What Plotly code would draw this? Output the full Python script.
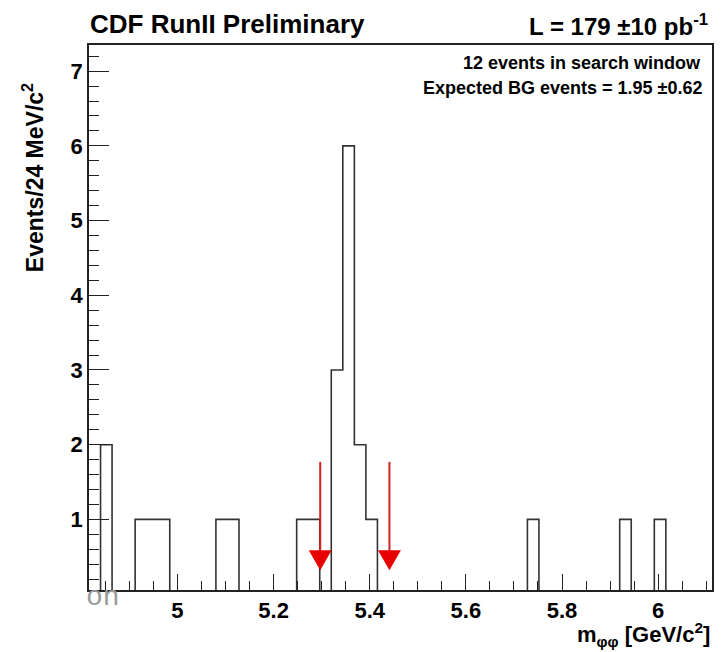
import plotly.graph_objects as go

# ---------------- data ----------------
bin_low = 4.816
bin_width = 0.024
counts = [0, 2, 0, 0, 1, 1, 1, 0, 0, 0,
          0, 1, 1, 0, 0, 0, 0, 0, 1, 1,
          0, 3, 6, 2, 1, 0, 0, 0, 0, 0,
          0, 0, 0, 0, 0, 0, 0, 0, 1, 0,
          0, 0, 0, 0, 0, 0, 1, 0, 0, 1,
          0, 0, 0, 0]
window_edges = [5.297, 5.441]
arrow_top = 1.77
arrow_tip = 0.32

x_tickvals = [5.0, 5.2, 5.4, 5.6, 5.8, 6.0]
x_ticktext = ["5", "5.2", "5.4", "5.6", "5.8", "6"]
y_tickvals = [1, 2, 3, 4, 5, 6, 7]
y_ticktext = ["1", "2", "3", "4", "5", "6", "7"]

# ---------------- geometry ----------------
W, H = 725, 652
L, R, T, B = 89, 11, 45, 62
PW, PH = W - L - R, H - T - B
xmin = bin_low
xmax = bin_low + bin_width * len(counts)
ymin, ymax = 0.055, 7.35
ppx = PW / (xmax - xmin)
ppy = PH / (ymax - ymin)

def fx(p):
    return (p - L) / PW

def fy(p):
    return (H - B - p) / PH

edges = [bin_low + i * bin_width for i in range(len(counts) + 1)]
ys = counts + [0]

fig = go.Figure()
fig.add_trace(go.Scatter(x=edges, y=ys, mode="lines", line_shape="hv",
                         line=dict(color="#333333", width=1.6),
                         hoverinfo="skip", showlegend=False))

# red arrows
red = "#e60000"
half_w = 11.5 / ppx
head_h = 20 / ppy
for xa in window_edges:
    fig.add_trace(go.Scatter(x=[xa, xa], y=[arrow_top, arrow_tip + head_h * 0.5],
                             mode="lines", line=dict(color="#d42020", width=2),
                             hoverinfo="skip", showlegend=False))
    fig.add_trace(go.Scatter(x=[xa - half_w, xa + half_w, xa, xa - half_w],
                             y=[arrow_tip + head_h, arrow_tip + head_h, arrow_tip, arrow_tip + head_h],
                             mode="lines", fill="toself", fillcolor=red,
                             line=dict(color=red, width=0),
                             hoverinfo="skip", showlegend=False))

font_fam = "Liberation Sans, Arial, Helvetica, sans-serif"
axis_common = dict(showgrid=False, zeroline=False, showline=True, mirror=True,
                   linecolor="#222222", linewidth=1.6, ticks="inside",
                   tickcolor="#222222", tickwidth=1.3,
                   tickfont=dict(family=font_fam, size=22, color="black", weight="bold"))

fig.update_xaxes(range=[xmin, xmax], tickmode="array", tickvals=x_tickvals,
                 ticktext=x_ticktext, ticklen=16,
                 minor=dict(dtick=0.05, tick0=5.0, ticklen=9, ticks="inside",
                            tickcolor="#222222", tickwidth=1.3, showgrid=False),
                 **axis_common)
fig.update_yaxes(range=[ymin, ymax], tickmode="array", tickvals=y_tickvals,
                 ticktext=y_ticktext, ticklen=20,
                 minor=dict(dtick=0.2, tick0=0, ticklen=10, ticks="inside",
                            tickcolor="#222222", tickwidth=1.3, showgrid=False),
                 **axis_common)

ann = []
def add_text(text, x, y, size, xanchor="left", yanchor="middle", angle=0,
             family=font_fam, color="black"):
    ann.append(dict(text=text, x=fx(x), y=fy(y), xref="paper", yref="paper",
                    xanchor=xanchor, yanchor=yanchor, showarrow=False,
                    textangle=angle, font=dict(family=family, size=size, color=color)))

add_text("<b>CDF RunII Preliminary</b>", 88, 24, 26)
add_text("<b>L = 179 ±10 pb<sup>-1</sup></b>", 712, 25, 24, xanchor="right")
add_text("<b>12 events in search window</b>", 705, 63, 18, xanchor="right")
add_text("<b>Expected BG events = 1.95 ±0.62</b>", 707, 88, 18, xanchor="right")
add_text("<b>Events/24 MeV/c<sup>2</sup></b>", 33, 178, 23, xanchor="center", angle=-90)
add_text("<b>m<sub>φφ</sub> [GeV/c<sup>2</sup>]</b>", 714, 634, 22, xanchor="right")
add_text("on", 122, 597, 28, xanchor="right",
         family="Liberation Mono, Courier New, monospace", color="#9a9a9a")

fig.update_layout(width=W, height=H, margin=dict(l=L, r=R, t=T, b=B),
                  paper_bgcolor="white", plot_bgcolor="white",
                  showlegend=False, annotations=ann,
                  font=dict(family=font_fam))

fig.write_html("out.html")
